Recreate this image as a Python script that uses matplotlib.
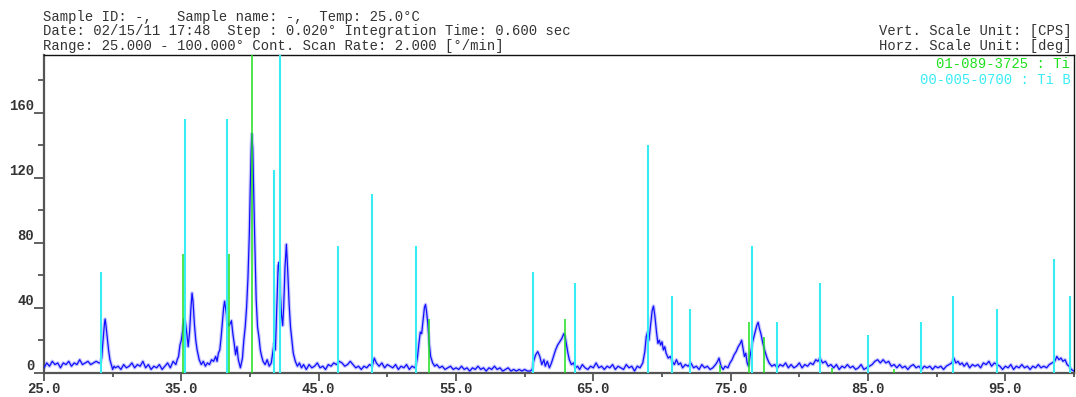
import matplotlib
matplotlib.use("Agg")
import matplotlib.pyplot as plt
from matplotlib.ticker import FixedLocator

# ---------------- data ----------------
two_theta = [
    25.0, 25.2, 25.4, 25.6, 25.8, 26.0, 26.2, 26.4, 26.6, 26.8, 27.0, 27.2, 27.4, 27.6, 27.8,
    28.0, 28.2, 28.4, 28.6, 28.8, 29.0, 29.1, 29.2, 29.3, 29.4, 29.45, 29.5, 29.6, 29.7, 29.8,
    29.9, 30.0, 30.1, 30.2, 30.4, 30.6, 30.8, 31.0, 31.2, 31.4, 31.6, 31.8, 32.0, 32.2, 32.4,
    32.6, 32.8, 33.0, 33.2, 33.4, 33.6, 33.8, 34.0, 34.2, 34.4, 34.6, 34.7, 34.8, 34.9, 35.0,
    35.1, 35.2, 35.3, 35.4, 35.5, 35.6, 35.7, 35.78, 35.85, 35.95, 36.05, 36.15, 36.3, 36.45, 36.6,
    36.75, 36.9, 37.05, 37.2, 37.35, 37.5, 37.6, 37.7, 37.8, 37.9, 38.0, 38.08, 38.15, 38.25, 38.35,
    38.45, 38.55, 38.65, 38.75, 38.85, 38.95, 39.05, 39.15, 39.3, 39.45, 39.55, 39.65, 39.75, 39.85, 39.95,
    40.02, 40.08, 40.13, 40.2, 40.27, 40.35, 40.45, 40.55, 40.65, 40.75, 40.85, 40.95, 41.1, 41.25, 41.4,
    41.55, 41.65, 41.75, 41.85, 41.95, 42.05, 42.12, 42.2, 42.3, 42.38, 42.45, 42.55, 42.65, 42.75, 42.85,
    42.95, 43.05, 43.15, 43.3, 43.45, 43.6, 43.75, 43.9, 44.1, 44.3, 44.5, 44.7, 44.9, 45.1, 45.3,
    45.5, 45.7, 45.9, 46.1, 46.3, 46.5, 46.7, 46.9, 47.1, 47.3, 47.5, 47.7, 47.9, 48.1, 48.3,
    48.5, 48.7, 48.9, 49.05, 49.2, 49.4, 49.6, 49.8, 50.0, 50.2, 50.4, 50.6, 50.8, 51.0, 51.2,
    51.4, 51.6, 51.8, 52.0, 52.1, 52.2, 52.3, 52.4, 52.5, 52.6, 52.7, 52.78, 52.85, 52.95, 53.05,
    53.15, 53.3, 53.45, 53.6, 53.8, 54.0, 54.2, 54.4, 54.6, 54.8, 55.0, 55.2, 55.4, 55.6, 55.8,
    56.0, 56.2, 56.4, 56.6, 56.8, 57.0, 57.2, 57.4, 57.6, 57.8, 58.0, 58.2, 58.4, 58.6, 58.8,
    59.0, 59.2, 59.4, 59.6, 59.8, 60.0, 60.2, 60.4, 60.55, 60.65, 60.8, 60.95, 61.1, 61.25, 61.4,
    61.5, 61.65, 61.8, 61.95, 62.1, 62.25, 62.4, 62.55, 62.7, 62.85, 62.95, 63.05, 63.15, 63.25, 63.4,
    63.55, 63.7, 63.85, 64.0, 64.2, 64.4, 64.6, 64.8, 65.0, 65.2, 65.4, 65.6, 65.8, 66.0, 66.2,
    66.4, 66.6, 66.8, 67.0, 67.2, 67.4, 67.6, 67.8, 68.0, 68.2, 68.4, 68.6, 68.75, 68.85, 68.95,
    69.05, 69.15, 69.28, 69.38, 69.48, 69.6, 69.7, 69.8, 69.9, 70.0, 70.1, 70.2, 70.3, 70.45, 70.6,
    70.75, 70.9, 71.05, 71.2, 71.35, 71.5, 71.7, 71.9, 72.1, 72.3, 72.5, 72.7, 72.9, 73.1, 73.3,
    73.5, 73.7, 73.9, 74.05, 74.15, 74.3, 74.45, 74.6, 74.8, 74.95, 75.1, 75.25, 75.4, 75.55, 75.7,
    75.8, 75.9, 76.0, 76.1, 76.2, 76.3, 76.45, 76.6, 76.75, 76.9, 77.0, 77.1, 77.2, 77.35, 77.5,
    77.65, 77.8, 78.0, 78.2, 78.4, 78.6, 78.8, 79.0, 79.2, 79.4, 79.6, 79.8, 80.0, 80.2, 80.4,
    80.6, 80.8, 81.0, 81.2, 81.35, 81.5, 81.7, 81.9, 82.1, 82.3, 82.5, 82.7, 82.9, 83.1, 83.3,
    83.5, 83.7, 83.9, 84.1, 84.3, 84.5, 84.7, 84.9, 85.1, 85.3, 85.5, 85.7, 85.9, 86.1, 86.3,
    86.5, 86.7, 86.9, 87.1, 87.3, 87.5, 87.7, 87.9, 88.1, 88.3, 88.5, 88.7, 88.9, 89.1, 89.3,
    89.5, 89.7, 89.9, 90.1, 90.3, 90.5, 90.7, 90.9, 91.1, 91.25, 91.4, 91.55, 91.7, 91.85, 92.0,
    92.2, 92.4, 92.6, 92.8, 93.0, 93.2, 93.4, 93.6, 93.8, 94.0, 94.2, 94.4, 94.6, 94.8, 95.0,
    95.2, 95.4, 95.6, 95.8, 96.0, 96.2, 96.4, 96.6, 96.8, 97.0, 97.2, 97.4, 97.6, 97.8, 98.0,
    98.2, 98.4, 98.6, 98.75, 98.9, 99.05, 99.2, 99.35, 99.5, 99.65, 99.8, 100.0,
]
intensity = [
    3, 6, 4, 7, 5, 6, 3, 6, 5, 7, 4, 6, 5, 8, 5,
    6, 7, 5, 6, 7, 6, 6, 9, 20, 30, 33, 30, 22, 14, 8,
    5, 2, 4, 3, 4, 2, 5, 3, 4, 6, 3, 5, 4, 7, 3,
    5, 2, 4, 3, 5, 2, 4, 6, 3, 7, 5, 8, 10, 17, 20,
    26, 33, 31, 24, 16, 25, 40, 49, 44, 30, 20, 14, 8, 5, 7,
    4, 6, 5, 8, 7, 10, 7, 12, 14, 22, 32, 40, 44, 38, 32,
    29, 30, 32, 24, 18, 11, 16, 8, 3, 9, 20, 28, 40, 58, 85,
    114, 135, 147, 138, 110, 80, 45, 28, 22, 14, 10, 7, 5, 8, 4,
    6, 12, 18, 14, 40, 66, 68, 50, 35, 29, 40, 65, 79, 62, 42,
    28, 20, 12, 7, 4, 6, 3, 5, 2, 5, 3, 4, 6, 3, 4,
    2, 5, 4, 6, 5, 7, 6, 4, 5, 7, 5, 3, 4, 2, 4,
    3, 5, 4, 9, 6, 4, 6, 3, 5, 4, 3, 5, 2, 4, 3,
    5, 2, 4, 3, 5, 10, 18, 25, 24, 32, 40, 42, 38, 30, 18,
    10, 6, 4, 5, 3, 4, 2, 3, 4, 2, 3, 2, 4, 2, 3,
    1, 3, 2, 4, 2, 3, 1, 3, 2, 4, 2, 3, 1, 2, 3,
    1, 2, 1, 2, 1, 2, 1, 1, 2, 7, 11, 13, 10, 5, 8,
    4, 7, 3, 6, 10, 14, 17, 19, 21, 24, 22, 17, 12, 8, 5,
    6, 3, 4, 2, 5, 3, 2, 4, 3, 6, 3, 4, 2, 4, 3,
    5, 2, 4, 3, 2, 5, 3, 4, 1, 4, 3, 6, 13, 22, 25,
    20, 28, 38, 41, 35, 25, 18, 20, 17, 19, 14, 16, 12, 9, 10,
    7, 5, 8, 5, 6, 3, 5, 4, 6, 3, 4, 2, 5, 3, 4,
    2, 3, 5, 7, 9, 4, 2, 4, 3, 6, 8, 11, 13, 16, 18,
    20, 15, 10, 12, 6, 4, 12, 19, 24, 29, 31, 27, 24, 18, 13,
    9, 6, 4, 5, 3, 5, 4, 6, 3, 5, 3, 4, 6, 3, 5,
    4, 6, 5, 8, 7, 9, 6, 7, 4, 5, 3, 5, 2, 4, 3,
    5, 3, 4, 2, 3, 5, 2, 3, 4, 5, 7, 8, 6, 8, 6,
    7, 4, 5, 3, 5, 3, 4, 2, 4, 5, 3, 4, 2, 4, 3,
    4, 2, 4, 3, 4, 2, 4, 5, 6, 9, 6, 7, 5, 6, 4,
    6, 3, 5, 4, 5, 3, 6, 5, 7, 4, 6, 5, 4, 2, 4,
    3, 5, 2, 4, 3, 5, 3, 4, 2, 4, 3, 5, 3, 4, 3,
    5, 6, 7, 10, 8, 9, 7, 8, 5, 4, 2, 1,
]

# reference card 01-089-3725 : Ti (green)
ti_pos = [35.09, 38.45, 40.18, 53.05, 62.95, 74.2, 76.3, 77.4, 82.4, 86.9]
ti_int = [73, 73, 200, 33, 33, 5, 31, 22, 3, 2]

# reference card 00-005-0700 : Ti B (cyan)
tib_pos = [29.17, 35.24, 38.33, 41.75, 42.22, 46.4, 48.9, 52.1, 60.6, 63.7,
           68.97, 70.74, 72.05, 76.54, 78.41, 81.5, 85.02, 88.87, 91.2, 94.39,
           98.56, 99.73]
tib_int = [62, 156, 156, 125, 200, 78, 110, 78, 62, 55,
           140, 47, 39, 78, 31, 55, 23, 31, 47, 39,
           70, 47]

x_major = [25, 35, 45, 55, 65, 75, 85, 95]
x_minor = [30, 40, 50, 60, 70, 80, 90, 100]
y_major = [0, 40, 80, 120, 160]
y_minor = [20, 60, 100, 140, 180]

header_left = [
    "Sample ID: -,   Sample name: -,  Temp: 25.0\u00b0C",
    "Date: 02/15/11 17:48  Step : 0.020\u00b0 Integration Time: 0.600 sec",
    "Range: 25.000 - 100.000\u00b0 Cont. Scan Rate: 2.000 [\u00b0/min]",
]
header_right = ["Vert. Scale Unit: [CPS]", "Horz. Scale Unit: [deg]"]
legend_labels = ["01-089-3725 : Ti", "00-005-0700 : Ti B"]

# ---------------- style ----------------
MONO = ["Liberation Mono", "DejaVu Sans Mono"]
GREEN = "#1ee01e"
CYAN = "#38ecf4"
BLUE = "#1010ff"
TXT = "#333333"
FS = 10.0

W, H = 1076, 397
fig = plt.figure(figsize=(W / 100, H / 100), dpi=100)
ax_l, ax_r, ax_t, ax_b = 44, 1074, 55, 372.7
ax = fig.add_axes([ax_l / W, 1 - ax_b / H, (ax_r - ax_l) / W, (ax_b - ax_t) / H])

# measured pattern with soft halo
ax.plot(two_theta, intensity, color="#9a9aff", lw=2.6, alpha=0.55, zorder=2)
ax.plot(two_theta, intensity, color=BLUE, lw=0.9, zorder=3)

ax.vlines(tib_pos, 0, tib_int, colors=CYAN, lw=1.5, zorder=4)
ax.vlines(ti_pos, 0, ti_int, colors=GREEN, lw=1.1, zorder=5)

ax.set_xlim(25, 100)
ax.set_ylim(0, 195.5)

ax.xaxis.set_major_locator(FixedLocator(x_major))
ax.xaxis.set_minor_locator(FixedLocator(x_minor))
ax.yaxis.set_major_locator(FixedLocator(y_major))
ax.yaxis.set_minor_locator(FixedLocator(y_minor))
ax.set_xticklabels([f"{v:.1f}" for v in x_major])
ax.set_yticklabels([str(v) for v in y_major])

for lab in ax.get_xticklabels() + ax.get_yticklabels():
    lab.set_fontfamily(MONO)
    lab.set_fontsize(FS)
    lab.set_color(TXT)
    lab.set_fontweight("bold")
for lab in ax.get_yticklabels():
    lab.set_verticalalignment("bottom")

ax.tick_params(axis="x", which="major", direction="out", length=5.5, width=1.3,
               color="#555555", pad=1.0)
ax.tick_params(axis="x", which="minor", direction="out", length=3, width=1.3,
               color="#555555")
ax.tick_params(axis="y", which="major", direction="out", length=7, width=1.3,
               color="#555555", pad=0)
ax.tick_params(axis="y", which="minor", direction="out", length=4.5, width=1.3,
               color="#555555")

for s in ("left", "bottom"):
    ax.spines[s].set_color("#555555")
    ax.spines[s].set_linewidth(1.6)
for s in ("top", "right"):
    ax.spines[s].set_color("#111111")
    ax.spines[s].set_linewidth(1.0)

# header text
for i, t in enumerate(header_left):
    fig.text(43 / W, 1 - (17 + 14.3 * i) / H, t, family=MONO, fontsize=FS,
             color=TXT, ha="left", va="center")
for i, t in enumerate(header_right):
    fig.text(1072 / W, 1 - (31 + 15 * i) / H, t, family=MONO, fontsize=FS,
             color=TXT, ha="right", va="center")

# reference legend (clipped by axes)
leg_x = [936.0, 920.0]
leg_y = [64, 80]
for lab, col, lx, ly in zip(legend_labels, [GREEN, CYAN], leg_x, leg_y):
    ax.text((lx - ax_l) / (ax_r - ax_l), 1 - (ly - ax_t) / (ax_b - ax_t), lab,
            transform=ax.transAxes, family=MONO, fontsize=FS, color=col,
            ha="left", va="center", clip_on=True)

fig.savefig("out.png", dpi=100)
